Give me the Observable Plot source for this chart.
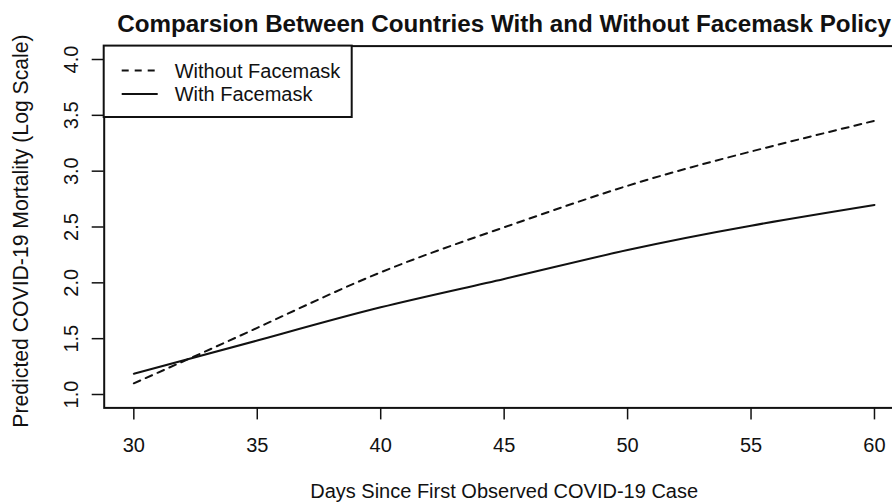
<!DOCTYPE html>
<html>
<head>
<meta charset="utf-8">
<script src="https://cdn.jsdelivr.net/npm/d3@7"></script>
<script src="https://cdn.jsdelivr.net/npm/@observablehq/plot@0.6"></script>
<style>
  html, body { margin: 0; padding: 0; background: white; overflow: hidden; }
</style>
</head>
<body>
<div id="chart"></div>
<script>
const days = [30, 35, 40, 45, 50, 55, 60];
const withoutFacemask = [1.10, 1.597, 2.094, 2.497, 2.869, 3.176, 3.451];
const withFacemask = [1.185, 1.483, 1.781, 2.035, 2.294, 2.512, 2.697];
const xTicks = [30, 35, 40, 45, 50, 55, 60];
const yTicks = [1.0, 1.5, 2.0, 2.5, 3.0, 3.5, 4.0];
const seriesNames = ["Without Facemask", "With Facemask"];
const titleText = "Comparsion Between Countries With and Without Facemask Policy";
const xLabel = "Days Since First Observed COVID-19 Case";
const yLabel = "Predicted COVID-19 Mortality (Log Scale)";

const rows = [
  ...days.map((d, i) => ({day: d, value: withoutFacemask[i], series: seriesNames[0]})),
  ...days.map((d, i) => ({day: d, value: withFacemask[i], series: seriesNames[1]}))
];

const ink = "#111";
const fmt = d3.format(".1f");

function legend(index, scales, values, dims) {
  const g = d3.create("svg:g");
  const x0 = dims.marginLeft, y0 = dims.marginTop;
  g.append("rect")
    .attr("x", x0).attr("y", y0)
    .attr("width", 248).attr("height", 71.4)
    .attr("fill", "white").attr("stroke", ink).attr("stroke-width", 2);
  const entries = [
    {name: seriesNames[0], dash: "7,6", cy: 25},
    {name: seriesNames[1], dash: null, cy: 48.4}
  ];
  for (const e of entries) {
    const l = g.append("line")
      .attr("x1", x0 + 18).attr("x2", x0 + 54)
      .attr("y1", y0 + e.cy).attr("y2", y0 + e.cy)
      .attr("stroke", ink).attr("stroke-width", 2);
    if (e.dash) l.attr("stroke-dasharray", e.dash);
    g.append("text")
      .attr("x", x0 + 71).attr("y", y0 + e.cy)
      .attr("dy", "0.35em")
      .attr("text-anchor", "start")
      .attr("fill", ink)
      .attr("font-size", 20)
      .text(e.name);
  }
  return g.node();
}

const chart = Plot.plot({
  width: 892,
  height: 502,
  marginLeft: 103.7,
  marginTop: 45.6,
  marginBottom: 94.6,
  marginRight: -11.6,
  x: {domain: [28.8, 61.2]},
  y: {domain: [0.88, 4.12]},
  style: {fontFamily: "'Liberation Sans', Arial, Helvetica, sans-serif", fontSize: "20px", color: ink, background: "white"},
  marks: [
    Plot.line(rows.filter(d => d.series === seriesNames[0]), {
      x: "day", y: "value", stroke: ink, strokeWidth: 2, strokeDasharray: "7,6", curve: "natural"
    }),
    Plot.line(rows.filter(d => d.series === seriesNames[1]), {
      x: "day", y: "value", stroke: ink, strokeWidth: 2, curve: "natural"
    }),
    Plot.frame({stroke: ink, strokeWidth: 2}),
    Plot.axisX({ticks: xTicks, tickSize: 12, tickPadding: 18, strokeWidth: 1.5, label: null, tickFormat: d3.format("d"), fontSize: 20}),
    Plot.axisY({ticks: yTicks, tickSize: 12, strokeWidth: 1.5, label: null, fill: "none"}),
    Plot.text(yTicks, {
      y: d => d, text: d => fmt(d), frameAnchor: "left", dx: -26.5,
      rotate: -90, textAnchor: "middle", lineAnchor: "bottom", fontSize: 20, fill: ink
    }),
    Plot.text([titleText], {
      text: d => d, frameAnchor: "top", dy: -14.1, lineAnchor: "bottom",
      fontSize: 24.2, fontWeight: "bold", fill: ink
    }),
    Plot.text([xLabel], {
      text: d => d, frameAnchor: "bottom", dy: 90, lineAnchor: "bottom", fontSize: 20, fill: ink
    }),
    Plot.text([yLabel], {
      text: d => d, frameAnchor: "left", dx: -76.5, dy: 4, rotate: -90,
      textAnchor: "middle", lineAnchor: "bottom", fontSize: 21.2, fill: ink
    }),
    legend
  ]
});

document.getElementById("chart").appendChild(chart);
</script>
</body>
</html>
